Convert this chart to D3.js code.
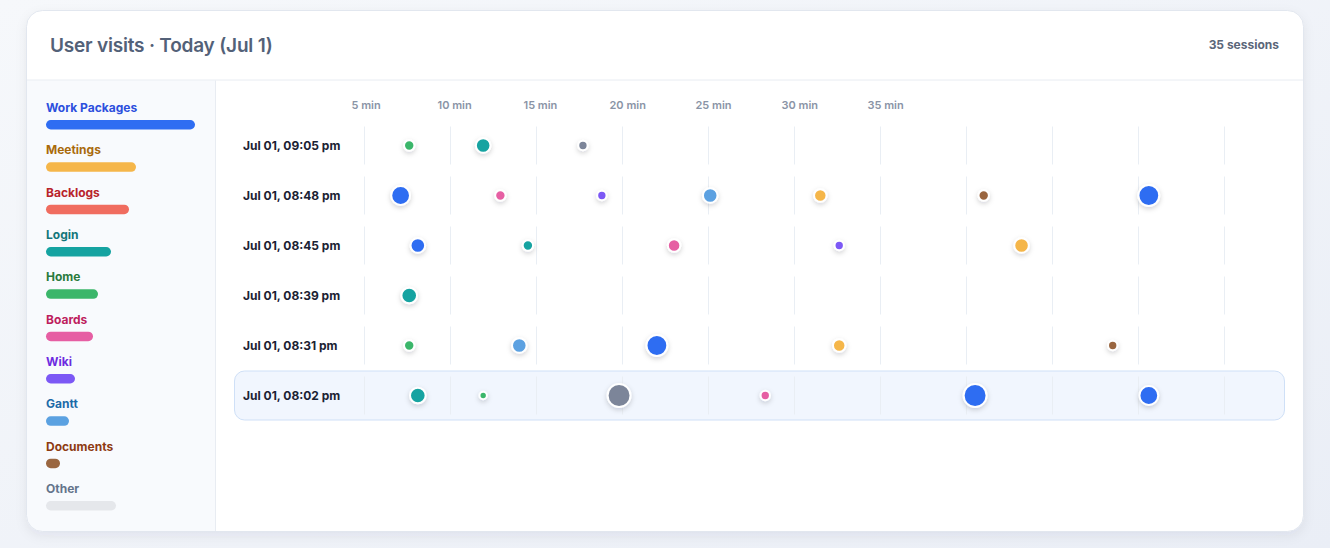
<!DOCTYPE html>
<html>
<head>
<meta charset="utf-8">
<script src="https://cdn.jsdelivr.net/npm/d3@7"></script>
<style>
  html, body { margin: 0; padding: 0; }
  body { width: 1330px; height: 548px; overflow: hidden; font-family: Inter, "Noto Sans", sans-serif; }
</style>
</head>
<body>
<div id="chart"></div>
<script>
// Page categories, in legend order
const categories = ["Work Packages", "Meetings", "Backlogs", "Login", "Home", "Boards", "Wiki", "Gantt", "Documents", "Other"];
const barColors = ["#2f6df2", "#f5b64a", "#f06c5f", "#15a3a1", "#3bb66a", "#e65ea3", "#7c58f5", "#5ba1e1", "#9a6640", "#e5e7eb"];
const labelColors = ["#2c4fdd", "#a96a0c", "#b8232b", "#13767a", "#2a7a3d", "#be1e5e", "#6d2ae0", "#1d6aa8", "#8e3b13", "#64748b"];
const dotColorOther = "#7b8599";
// legend bar length (relative share)
const legendValues = [149, 90, 83, 65, 52, 47, 29, 23, 14, 70];

// Sessions (rows)
const sessionLabels = ["Jul 01, 09:05 pm", "Jul 01, 08:48 pm", "Jul 01, 08:45 pm", "Jul 01, 08:39 pm", "Jul 01, 08:31 pm", "Jul 01, 08:02 pm"];
const highlighted = "Jul 01, 08:02 pm";
const sessionCount = 35;

// Axis
const gridMinutes = [5, 10, 15, 20, 25, 30, 35, 40, 45, 50, 55];
const tickMinutes = [5, 10, 15, 20, 25, 30, 35];
const tickLabels = ["5 min", "10 min", "15 min", "20 min", "25 min", "30 min", "35 min"];

// Visits: [session index, category, minute, duration]
const visits = [
    [0, "Home", 7.6, 5.2], [0, "Login", 11.9, 10.2], [0, "Other", 17.7, 4.2],
    [1, "Work Packages", 7.1, 16.9], [1, "Boards", 12.9, 5.2], [1, "Wiki", 18.8, 4.2], [1, "Gantt", 25.1, 10.2],
    [1, "Meetings", 31.5, 7.5], [1, "Documents", 41.0, 5.2], [1, "Work Packages", 50.6, 20.8],
    [2, "Work Packages", 8.1, 10.2], [2, "Login", 14.5, 5.2], [2, "Boards", 23.0, 7.5], [2, "Wiki", 32.6, 4.2],
    [2, "Meetings", 43.2, 10.2],
    [3, "Login", 7.6, 11.7],
    [4, "Home", 7.6, 5.2], [4, "Gantt", 14.0, 10.2], [4, "Work Packages", 22.0, 20.8], [4, "Meetings", 32.6, 7.5],
    [4, "Documents", 48.5, 4.2],
    [5, "Login", 8.1, 11.7], [5, "Home", 11.9, 2.6], [5, "Other", 19.8, 25.2], [5, "Boards", 28.3, 4.2],
    [5, "Work Packages", 40.5, 25.2], [5, "Work Packages", 50.6, 16.9]
];

const W = 1330, H = 548;
const card = { x: 26.5, y: 10.5, w: 1277, h: 521, r: 16 };
const headerH = 70;
const sidebarW = 189;

const svg = d3.select("#chart").append("svg")
    .attr("width", W)
    .attr("height", H)
    .style("display", "block");

const defs = svg.append("defs");
const bg = defs.append("linearGradient").attr("id", "bg").attr("x1", 0).attr("y1", 0).attr("x2", 1).attr("y2", 1);
bg.append("stop").attr("offset", 0).attr("stop-color", "#f6f8fb");
bg.append("stop").attr("offset", 1).attr("stop-color", "#eaeef6");

const cardShadow = defs.append("filter").attr("id", "cardShadow")
    .attr("x", "-5%").attr("y", "-5%").attr("width", "110%").attr("height", "115%");
cardShadow.append("feDropShadow").attr("dx", 0).attr("dy", 4).attr("stdDeviation", 6)
    .attr("flood-color", "#1e293b").attr("flood-opacity", 0.07);

const dotShadow = defs.append("filter").attr("id", "dotShadow")
    .attr("x", "-100%").attr("y", "-100%").attr("width", "300%").attr("height", "300%");
dotShadow.append("feDropShadow").attr("dx", 0).attr("dy", 2).attr("stdDeviation", 2.5)
    .attr("flood-color", "#0f172a").attr("flood-opacity", 0.18);

defs.append("clipPath").attr("id", "cardClip")
    .append("rect")
    .attr("x", card.x).attr("y", card.y).attr("width", card.w).attr("height", card.h).attr("rx", card.r);

svg.append("rect").attr("width", W).attr("height", H).attr("fill", "url(#bg)");

// Card
svg.append("rect")
    .attr("x", card.x).attr("y", card.y).attr("width", card.w).attr("height", card.h).attr("rx", card.r)
    .attr("fill", "#fff")
    .attr("filter", "url(#cardShadow)");

const inner = svg.append("g").attr("clip-path", "url(#cardClip)");

// Sidebar
inner.append("rect")
    .attr("x", card.x).attr("y", card.y + headerH)
    .attr("width", sidebarW).attr("height", card.h - headerH)
    .attr("fill", "#f8fafd");
inner.append("line")
    .attr("x1", card.x + sidebarW).attr("x2", card.x + sidebarW)
    .attr("y1", card.y + headerH).attr("y2", card.y + card.h)
    .attr("stroke", "#e8ecf2");
inner.append("line")
    .attr("x1", card.x).attr("x2", card.x + card.w)
    .attr("y1", card.y + headerH - 0.5).attr("y2", card.y + headerH - 0.5)
    .attr("stroke", "#e8ecf2");

svg.append("rect")
    .attr("x", card.x).attr("y", card.y).attr("width", card.w).attr("height", card.h).attr("rx", card.r)
    .attr("fill", "none")
    .attr("stroke", "#e2e7ef");

// Header
svg.append("text")
    .attr("x", 50).attr("y", 51.5)
    .attr("fill", "#536178")
    .style("font-size", "19px")
    .style("font-weight", 600)
    .style("letter-spacing", "-0.2px")
    .text("User visits · Today (Jul 1)");
svg.append("text")
    .attr("x", 1279).attr("y", 49)
    .attr("text-anchor", "end")
    .attr("fill", "#5b6679")
    .style("font-size", "12px")
    .style("font-weight", 700)
    .text(`${sessionCount} sessions`);

// Legend
const legendY = d3.scalePoint().domain(categories).range([112, 493]);
const barW = d3.scaleLinear().domain([0, d3.max(legendValues)]).range([0, 149]);
const legend = svg.append("g").selectAll("g")
    .data(categories)
    .join("g")
    .attr("transform", d => `translate(46, ${legendY(d)})`);
legend.append("text")
    .attr("fill", (d, i) => labelColors[i])
    .style("font-size", "12px")
    .style("font-weight", 700)
    .text(d => d);
legend.append("rect")
    .attr("y", 8)
    .attr("height", 9.5)
    .attr("rx", 4.75)
    .attr("width", (d, i) => barW(legendValues[i]))
    .attr("fill", (d, i) => barColors[i]);

// Scales for the timeline
const x = d3.scaleLinear().domain([5, 55]).range([364.5, 1224.5]);
const y = d3.scaleBand().domain(sessionLabels).range([120.5, 420.5]);
const r = d3.scaleSqrt().domain([0, 30]).range([0, 12.5]);
const color = d3.scaleOrdinal().domain(categories).range(barColors.slice(0, 9).concat([dotColorOther]));

// Axis labels
svg.append("g").selectAll("text")
    .data(tickMinutes)
    .join("text")
    .attr("x", d => x(d) - 13)
    .attr("y", 109)
    .attr("fill", "#8a94a6")
    .style("font-size", "11px")
    .style("font-weight", 600)
    .text((d, i) => tickLabels[i]);

// Highlighted session
svg.append("rect")
    .attr("x", 234.5)
    .attr("y", y(highlighted) + 0.5)
    .attr("width", 1050)
    .attr("height", y.bandwidth() - 1)
    .attr("rx", 10)
    .attr("fill", "#f1f6fe")
    .attr("stroke", "#cfe0f7");

// Rows
const rows = svg.append("g").selectAll("g")
    .data(sessionLabels)
    .join("g")
    .attr("transform", d => `translate(0, ${y(d) + y.bandwidth() / 2})`);
rows.append("text")
    .attr("x", 243)
    .attr("dy", "0.35em")
    .attr("fill", "#1b2233")
    .style("font-size", "12px")
    .style("font-weight", 700)
    .text(d => d);
rows.selectAll("line")
    .data(gridMinutes)
    .join("line")
    .attr("x1", d => x(d)).attr("x2", d => x(d))
    .attr("y1", -19).attr("y2", 19)
    .attr("stroke", "#e9eef4");

// Visit dots
svg.append("g").selectAll("circle")
    .data(visits)
    .join("circle")
    .attr("cx", d => x(d[2]))
    .attr("cy", d => y(sessionLabels[d[0]]) + y.bandwidth() / 2)
    .attr("r", d => r(d[3]))
    .attr("fill", d => color(d[1]))
    .attr("stroke", "#fff")
    .attr("stroke-width", 2)
    .attr("filter", "url(#dotShadow)");
</script>
</body>
</html>
